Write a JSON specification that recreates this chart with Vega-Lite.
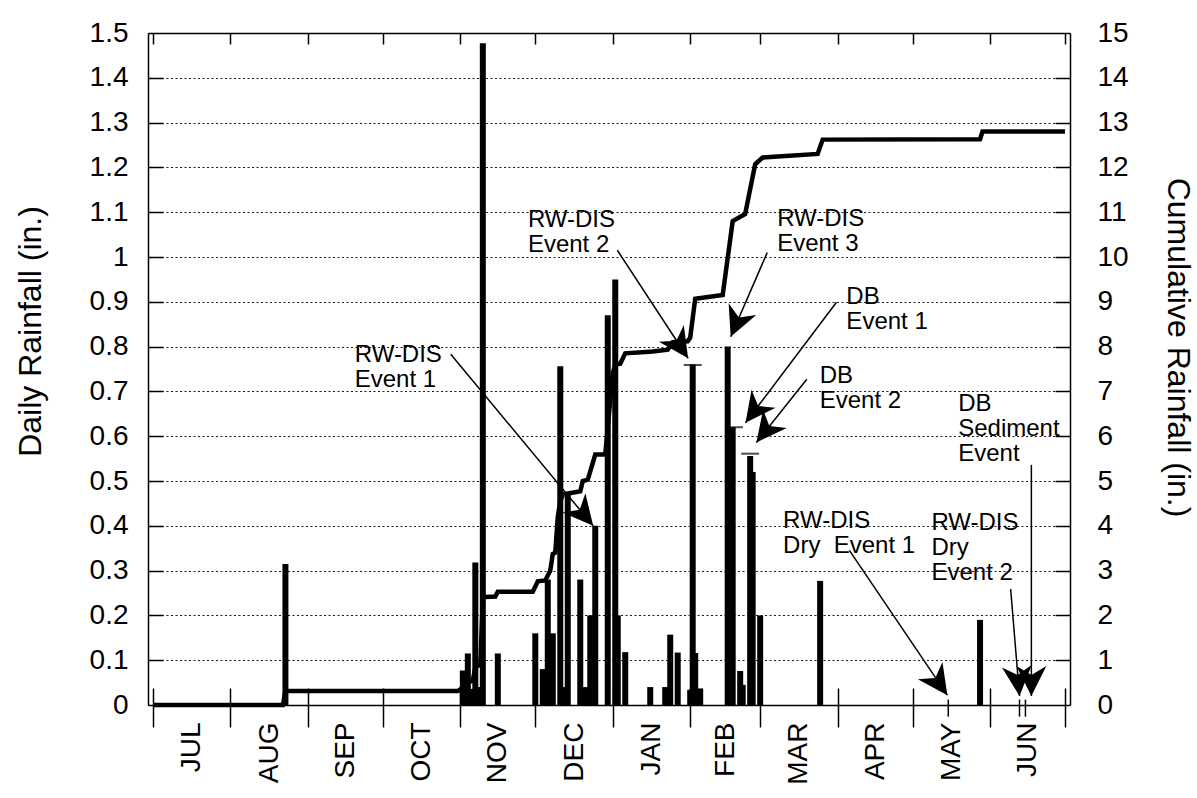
{
  "$schema": "https://vega.github.io/schema/vega-lite/v6.json",
  "width": 922,
  "height": 672,
  "autosize": "none",
  "padding": {"left": 148, "top": 33, "right": 127, "bottom": 93},
  "background": "white",
  "config": {
    "view": {"stroke": null},
    "font": "Liberation Sans",
    "axis": {
      "domainColor": "black", "domainWidth": 1.5, "tickColor": "black", "tickWidth": 1.5,
      "labelColor": "black", "titleColor": "black", "labelFont": "Liberation Sans", "titleFont": "Liberation Sans",
      "titleFontWeight": "normal", "labelFontSize": 28, "titleFontSize": 32, "grid": false,
      "labelOverlap": false, "labelFlush": false
    }
  },
  "datasets": {
    "daily": [
      {"date": "1997-08-23", "rain": 0.315},
      {"date": "1997-11-02", "rain": 0.077},
      {"date": "1997-11-04", "rain": 0.115},
      {"date": "1997-11-06", "rain": 0.036},
      {"date": "1997-11-07", "rain": 0.318},
      {"date": "1997-11-09", "rain": 0.04},
      {"date": "1997-11-10", "rain": 1.477},
      {"date": "1997-11-16", "rain": 0.115},
      {"date": "1997-12-01", "rain": 0.16},
      {"date": "1997-12-04", "rain": 0.08},
      {"date": "1997-12-06", "rain": 0.28},
      {"date": "1997-12-08", "rain": 0.16},
      {"date": "1997-12-11", "rain": 0.756},
      {"date": "1997-12-12", "rain": 0.04},
      {"date": "1997-12-14", "rain": 0.47},
      {"date": "1997-12-19", "rain": 0.28},
      {"date": "1997-12-21", "rain": 0.04},
      {"date": "1997-12-23", "rain": 0.2},
      {"date": "1997-12-25", "rain": 0.4},
      {"date": "1997-12-30", "rain": 0.87},
      {"date": "1998-01-02", "rain": 0.95},
      {"date": "1998-01-03", "rain": 0.2},
      {"date": "1998-01-06", "rain": 0.118},
      {"date": "1998-01-16", "rain": 0.04},
      {"date": "1998-01-22", "rain": 0.04},
      {"date": "1998-01-24", "rain": 0.157},
      {"date": "1998-01-27", "rain": 0.117},
      {"date": "1998-02-01", "rain": 0.034},
      {"date": "1998-02-02", "rain": 0.76},
      {"date": "1998-02-03", "rain": 0.116},
      {"date": "1998-02-05", "rain": 0.037},
      {"date": "1998-02-16", "rain": 0.8},
      {"date": "1998-02-18", "rain": 0.62},
      {"date": "1998-02-21", "rain": 0.076},
      {"date": "1998-02-22", "rain": 0.045},
      {"date": "1998-02-25", "rain": 0.556},
      {"date": "1998-02-26", "rain": 0.52},
      {"date": "1998-03-01", "rain": 0.2},
      {"date": "1998-03-25", "rain": 0.277},
      {"date": "1998-05-28", "rain": 0.19}
    ],
    "cumulative": [
      {"date": "1997-07-01", "total": 0},
      {"date": "1997-08-22", "total": 0},
      {"date": "1997-08-23", "total": 0.31},
      {"date": "1997-10-31", "total": 0.31},
      {"date": "1997-11-01", "total": 0.35},
      {"date": "1997-11-02", "total": 0.39},
      {"date": "1997-11-04", "total": 0.5},
      {"date": "1997-11-06", "total": 0.55},
      {"date": "1997-11-07", "total": 0.85},
      {"date": "1997-11-09", "total": 0.9},
      {"date": "1997-11-10", "total": 2.38},
      {"date": "1997-11-11", "total": 2.41},
      {"date": "1997-11-15", "total": 2.42},
      {"date": "1997-11-16", "total": 2.53},
      {"date": "1997-11-30", "total": 2.53},
      {"date": "1997-12-02", "total": 2.76},
      {"date": "1997-12-05", "total": 2.78},
      {"date": "1997-12-07", "total": 3.0},
      {"date": "1997-12-08", "total": 3.37},
      {"date": "1997-12-09", "total": 3.4},
      {"date": "1997-12-10", "total": 4.2},
      {"date": "1997-12-11", "total": 4.55},
      {"date": "1997-12-12", "total": 4.7},
      {"date": "1997-12-19", "total": 4.77},
      {"date": "1997-12-20", "total": 5.0},
      {"date": "1997-12-22", "total": 5.03},
      {"date": "1997-12-25", "total": 5.59},
      {"date": "1997-12-29", "total": 5.59},
      {"date": "1998-01-01", "total": 7.4},
      {"date": "1998-01-02", "total": 7.6},
      {"date": "1998-01-04", "total": 7.62},
      {"date": "1998-01-06", "total": 7.85},
      {"date": "1998-01-17", "total": 7.89},
      {"date": "1998-01-23", "total": 7.93},
      {"date": "1998-01-25", "total": 8.1},
      {"date": "1998-01-31", "total": 8.12},
      {"date": "1998-02-01", "total": 8.2},
      {"date": "1998-02-03", "total": 9.07},
      {"date": "1998-02-14", "total": 9.15},
      {"date": "1998-02-18", "total": 10.8},
      {"date": "1998-02-23", "total": 10.96},
      {"date": "1998-02-27", "total": 12.07},
      {"date": "1998-03-02", "total": 12.22},
      {"date": "1998-03-24", "total": 12.3},
      {"date": "1998-03-26", "total": 12.62},
      {"date": "1998-05-28", "total": 12.63},
      {"date": "1998-05-29", "total": 12.8},
      {"date": "1998-07-01", "total": 12.8}
    ],
    "caps": [
      {"date": "1998-02-02", "rain": 0.759},
      {"date": "1998-02-18T12:00Z", "rain": 0.62},
      {"date": "1998-02-25", "rain": 0.561}
    ],
    "markers": [
      {"date": "1998-05-15T07:00Z"},
      {"date": "1998-06-12T19:00Z"},
      {"date": "1998-06-15T04:00Z"}
    ],
    "notes": [
      {"label": "RW-DIS\nEvent 1", "date": "1997-09-19T18:00Z", "rain": 0.765},
      {"label": "RW-DIS\nEvent 2", "date": "1997-11-28T01:00Z", "rain": 1.067},
      {"label": "RW-DIS\nEvent 3", "date": "1998-03-07T19:00Z", "rain": 1.07},
      {"label": "DB\nEvent 1", "date": "1998-04-04T12:00Z", "rain": 0.896},
      {"label": "DB\nEvent 2", "date": "1998-03-24T20:00Z", "rain": 0.7185},
      {"label": "DB\nSediment\nEvent", "date": "1998-05-19T06:00Z", "rain": 0.6556},
      {"label": "RW-DIS\nDry\u00a0\u00a0Event 1", "date": "1998-03-10T04:00Z", "rain": 0.394},
      {"label": "RW-DIS\nDry\nEvent 2", "date": "1998-05-08T13:00Z", "rain": 0.39}
    ],
    "arrows": [
      {"id": "E1", "date": "1997-10-28T04:00Z", "rain": 0.783, "tipDate": "1997-12-24T04:00Z", "tipRain": 0.4},
      {"id": "E2", "date": "1998-01-02T20:00Z", "rain": 1.015, "tipDate": "1998-01-31T04:00Z", "tipRain": 0.774},
      {"id": "E3", "date": "1998-03-03T20:00Z", "rain": 1.01, "tipDate": "1998-02-17T05:00Z", "tipRain": 0.822},
      {"id": "D1", "date": "1998-03-31T13:00Z", "rain": 0.899, "tipDate": "1998-02-23T03:00Z", "tipRain": 0.63},
      {"id": "D2", "date": "1998-03-19T16:00Z", "rain": 0.727, "tipDate": "1998-02-27T12:00Z", "tipRain": 0.586},
      {"id": "DS", "date": "1998-06-17T13:00Z", "rain": 0.536, "tipDate": "1998-06-17T13:00Z", "tipRain": 0.02},
      {"id": "Y1", "date": "1998-04-05T17:00Z", "rain": 0.345, "tipDate": "1998-05-14T22:00Z", "tipRain": 0.022},
      {"id": "Y2", "date": "1998-06-09T06:00Z", "rain": 0.259, "tipDate": "1998-06-12T19:00Z", "tipRain": 0.02}
    ]
  },
  "layer": [
    {
      "data": {"name": "daily"},
      "mark": {"type": "bar", "size": 6, "color": "black"},
      "encoding": {
        "x": {"field": "date", "type": "temporal",
          "scale": {"type": "utc", "domain": [{"year": 1997, "month": 7, "date": 1, "utc": true}, {"year": 1998, "month": 7, "date": 1, "utc": true}]},
          "axis": {"orient": "bottom", "title": null, "labels": false, "tickSize": 22, "domain": true, "grid": false,
            "values": [{"year": 1997, "month": 7, "date": 1, "utc": true}, {"year": 1997, "month": 8, "date": 1, "utc": true}, {"year": 1997, "month": 9, "date": 1, "utc": true}, {"year": 1997, "month": 10, "date": 1, "utc": true}, {"year": 1997, "month": 11, "date": 1, "utc": true}, {"year": 1997, "month": 12, "date": 1, "utc": true}, {"year": 1998, "month": 1, "date": 1, "utc": true}, {"year": 1998, "month": 2, "date": 1, "utc": true}, {"year": 1998, "month": 3, "date": 1, "utc": true}, {"year": 1998, "month": 4, "date": 1, "utc": true}, {"year": 1998, "month": 5, "date": 1, "utc": true}, {"year": 1998, "month": 6, "date": 1, "utc": true}, {"year": 1998, "month": 7, "date": 1, "utc": true}]}},
        "y": {"field": "rain", "type": "quantitative",
          "scale": {"domain": [0, 1.5], "nice": false, "zero": true},
          "axis": {"orient": "left", "values": [0, 0.1, 0.2, 0.3, 0.4, 0.5, 0.6, 0.7, 0.8, 0.9, 1, 1.1, 1.2, 1.3, 1.4, 1.5],
            "format": "~g", "ticks": false, "tickSize": 0, "labelPadding": 20, "domain": true,
            "grid": true, "gridColor": "black", "gridDash": [2, 2.5], "gridWidth": 1, "gridOpacity": 0.9,
            "title": "Daily Rainfall (in.)", "titleAngle": 270, "titleX": -118, "titleY": 298,
            "titleAlign": "center", "titleBaseline": "middle"}}
      }
    },
    {
      "data": {"name": "cumulative"},
      "mark": {"type": "line", "color": "black", "strokeWidth": 4.5},
      "encoding": {
        "x": {"field": "date", "type": "temporal",
          "scale": {"type": "utc", "domain": [{"year": 1997, "month": 7, "date": 1, "utc": true}, {"year": 1998, "month": 7, "date": 1, "utc": true}]},
          "axis": {"orient": "top", "title": null, "labels": false, "tickSize": -11, "domain": true,
            "values": [{"year": 1997, "month": 7, "date": 1, "utc": true}, {"year": 1997, "month": 8, "date": 1, "utc": true}, {"year": 1997, "month": 9, "date": 1, "utc": true}, {"year": 1997, "month": 10, "date": 1, "utc": true}, {"year": 1997, "month": 11, "date": 1, "utc": true}, {"year": 1997, "month": 12, "date": 1, "utc": true}, {"year": 1998, "month": 1, "date": 1, "utc": true}, {"year": 1998, "month": 2, "date": 1, "utc": true}, {"year": 1998, "month": 3, "date": 1, "utc": true}, {"year": 1998, "month": 4, "date": 1, "utc": true}, {"year": 1998, "month": 5, "date": 1, "utc": true}, {"year": 1998, "month": 6, "date": 1, "utc": true}, {"year": 1998, "month": 7, "date": 1, "utc": true}]}},
        "y": {"field": "total", "type": "quantitative",
          "scale": {"domain": [0, 15], "nice": false},
          "axis": {"orient": "right", "values": [0, 1, 2, 3, 4, 5, 6, 7, 8, 9, 10, 11, 12, 13, 14, 15],
            "ticks": false, "tickSize": 0, "labelPadding": 27, "labelAlign": "left", "domain": true,
            "title": "Cumulative Rainfall (in.)", "titleAngle": 90, "titleX": 107, "titleY": 314,
            "titleAlign": "center", "titleBaseline": "middle"}}
      }
    },
    {
      "data": {"name": "caps"},
      "mark": {"type": "tick", "orient": "horizontal", "color": "black", "size": 18, "thickness": 2},
      "encoding": {
        "x": {"field": "date", "type": "temporal",
          "scale": {"type": "utc", "domain": [{"year": 1997, "month": 7, "date": 1, "utc": true}, {"year": 1998, "month": 7, "date": 1, "utc": true}]},
          "axis": {"orient": "bottom", "title": null, "labels": false, "tickSize": -17, "domain": false,
            "values": [{"year": 1997, "month": 7, "date": 1, "utc": true}, {"year": 1997, "month": 8, "date": 1, "utc": true}, {"year": 1997, "month": 9, "date": 1, "utc": true}, {"year": 1997, "month": 10, "date": 1, "utc": true}, {"year": 1997, "month": 11, "date": 1, "utc": true}, {"year": 1997, "month": 12, "date": 1, "utc": true}, {"year": 1998, "month": 1, "date": 1, "utc": true}, {"year": 1998, "month": 2, "date": 1, "utc": true}, {"year": 1998, "month": 3, "date": 1, "utc": true}, {"year": 1998, "month": 4, "date": 1, "utc": true}, {"year": 1998, "month": 5, "date": 1, "utc": true}, {"year": 1998, "month": 6, "date": 1, "utc": true}, {"year": 1998, "month": 7, "date": 1, "utc": true}]}},
        "y": {"field": "rain", "type": "quantitative",
          "scale": {"domain": [0, 1.5], "nice": false},
          "axis": {"orient": "left", "values": [0.1, 0.2, 0.3, 0.4, 0.5, 0.6, 0.7, 0.8, 0.9, 1, 1.1, 1.2, 1.3, 1.4],
            "tickSize": -15, "labels": false, "domain": false, "title": null, "grid": false}}
      }
    },
    {
      "data": {"name": "arrows", "format": {"parse": {"date": "date", "tipDate": "date"}}},
      "mark": {"type": "rule", "color": "black", "strokeWidth": 1.5},
      "encoding": {
        "x": {"field": "date", "type": "temporal",
          "scale": {"type": "utc", "domain": [{"year": 1997, "month": 7, "date": 1, "utc": true}, {"year": 1998, "month": 7, "date": 1, "utc": true}]},
          "axis": {"orient": "bottom", "title": null, "ticks": false, "tickSize": 0, "domain": false,
            "labelPadding": 17, "labelAngle": 270, "labelAlign": "right", "labelBaseline": "middle", "labelFontSize": 28,
            "labelExpr": "upper(utcFormat(datum.value, '%b'))",
            "values": [{"year": 1997, "month": 7, "date": 16, "hours": 12, "utc": true}, {"year": 1997, "month": 8, "date": 16, "hours": 12, "utc": true}, {"year": 1997, "month": 9, "date": 16, "utc": true}, {"year": 1997, "month": 10, "date": 16, "hours": 12, "utc": true}, {"year": 1997, "month": 11, "date": 16, "utc": true}, {"year": 1997, "month": 12, "date": 16, "hours": 12, "utc": true}, {"year": 1998, "month": 1, "date": 16, "hours": 12, "utc": true}, {"year": 1998, "month": 2, "date": 15, "utc": true}, {"year": 1998, "month": 3, "date": 16, "hours": 12, "utc": true}, {"year": 1998, "month": 4, "date": 16, "utc": true}, {"year": 1998, "month": 5, "date": 16, "hours": 12, "utc": true}, {"year": 1998, "month": 6, "date": 16, "utc": true}]}},
        "x2": {"field": "tipDate"},
        "y": {"field": "rain", "type": "quantitative",
          "scale": {"domain": [0, 1.5], "nice": false},
          "axis": {"orient": "right", "values": [0.1, 0.2, 0.3, 0.4, 0.5, 0.6, 0.7, 0.8, 0.9, 1, 1.1, 1.2, 1.3, 1.4],
            "tickSize": -15, "labels": false, "domain": false, "title": null, "grid": false}},
        "y2": {"field": "tipRain"}
      }
    },
    {
      "data": {"name": "markers"},
      "mark": {"type": "rule", "color": "black", "strokeWidth": 1.5},
      "encoding": {
        "x": {"field": "date", "type": "temporal", "scale": {"type": "utc", "domain": [{"year": 1997, "month": 7, "date": 1, "utc": true}, {"year": 1998, "month": 7, "date": 1, "utc": true}]}, "axis": null},
        "y": {"datum": -0.026, "type": "quantitative", "scale": {"domain": [0, 1.5], "nice": false}, "axis": null},
        "y2": {"datum": 0.012}
      }
    },
    {
      "data": {"name": "arrows", "format": {"parse": {"tipDate": "date"}}},
      "transform": [{"filter": "datum.id == 'E1'"}],
      "mark": {"type": "point", "shape": "M0,0L-0.5,1L0,0.7L0.5,1Z", "filled": true, "color": "black", "opacity": 1, "size": 3600, "angle": 140},
      "encoding": {
        "x": {"field": "tipDate", "type": "temporal", "scale": {"type": "utc", "domain": [{"year": 1997, "month": 7, "date": 1, "utc": true}, {"year": 1998, "month": 7, "date": 1, "utc": true}]}, "axis": null},
        "y": {"field": "tipRain", "type": "quantitative", "scale": {"domain": [0, 1.5], "nice": false}, "axis": null}
      }
    },
    {
      "data": {"name": "arrows", "format": {"parse": {"tipDate": "date"}}},
      "transform": [{"filter": "datum.id == 'E2'"}],
      "mark": {"type": "point", "shape": "M0,0L-0.5,1L0,0.7L0.5,1Z", "filled": true, "color": "black", "opacity": 1, "size": 3600, "angle": 146},
      "encoding": {
        "x": {"field": "tipDate", "type": "temporal", "scale": {"type": "utc", "domain": [{"year": 1997, "month": 7, "date": 1, "utc": true}, {"year": 1998, "month": 7, "date": 1, "utc": true}]}, "axis": null},
        "y": {"field": "tipRain", "type": "quantitative", "scale": {"domain": [0, 1.5], "nice": false}, "axis": null}
      }
    },
    {
      "data": {"name": "arrows", "format": {"parse": {"tipDate": "date"}}},
      "transform": [{"filter": "datum.id == 'E3'"}],
      "mark": {"type": "point", "shape": "M0,0L-0.5,1L0,0.7L0.5,1Z", "filled": true, "color": "black", "opacity": 1, "size": 3600, "angle": 203},
      "encoding": {
        "x": {"field": "tipDate", "type": "temporal", "scale": {"type": "utc", "domain": [{"year": 1997, "month": 7, "date": 1, "utc": true}, {"year": 1998, "month": 7, "date": 1, "utc": true}]}, "axis": null},
        "y": {"field": "tipRain", "type": "quantitative", "scale": {"domain": [0, 1.5], "nice": false}, "axis": null}
      }
    },
    {
      "data": {"name": "arrows", "format": {"parse": {"tipDate": "date"}}},
      "transform": [{"filter": "datum.id == 'D1'"}],
      "mark": {"type": "point", "shape": "M0,0L-0.5,1L0,0.7L0.5,1Z", "filled": true, "color": "black", "opacity": 1, "size": 3600, "angle": 217},
      "encoding": {
        "x": {"field": "tipDate", "type": "temporal", "scale": {"type": "utc", "domain": [{"year": 1997, "month": 7, "date": 1, "utc": true}, {"year": 1998, "month": 7, "date": 1, "utc": true}]}, "axis": null},
        "y": {"field": "tipRain", "type": "quantitative", "scale": {"domain": [0, 1.5], "nice": false}, "axis": null}
      }
    },
    {
      "data": {"name": "arrows", "format": {"parse": {"tipDate": "date"}}},
      "transform": [{"filter": "datum.id == 'D2'"}],
      "mark": {"type": "point", "shape": "M0,0L-0.5,1L0,0.7L0.5,1Z", "filled": true, "color": "black", "opacity": 1, "size": 3600, "angle": 218},
      "encoding": {
        "x": {"field": "tipDate", "type": "temporal", "scale": {"type": "utc", "domain": [{"year": 1997, "month": 7, "date": 1, "utc": true}, {"year": 1998, "month": 7, "date": 1, "utc": true}]}, "axis": null},
        "y": {"field": "tipRain", "type": "quantitative", "scale": {"domain": [0, 1.5], "nice": false}, "axis": null}
      }
    },
    {
      "data": {"name": "arrows", "format": {"parse": {"tipDate": "date"}}},
      "transform": [{"filter": "datum.id == 'DS'"}],
      "mark": {"type": "point", "shape": "M0,0L-0.5,1L0,0.7L0.5,1Z", "filled": true, "color": "black", "opacity": 1, "size": 3600, "angle": 180},
      "encoding": {
        "x": {"field": "tipDate", "type": "temporal", "scale": {"type": "utc", "domain": [{"year": 1997, "month": 7, "date": 1, "utc": true}, {"year": 1998, "month": 7, "date": 1, "utc": true}]}, "axis": null},
        "y": {"field": "tipRain", "type": "quantitative", "scale": {"domain": [0, 1.5], "nice": false}, "axis": null}
      }
    },
    {
      "data": {"name": "arrows", "format": {"parse": {"tipDate": "date"}}},
      "transform": [{"filter": "datum.id == 'Y1'"}],
      "mark": {"type": "point", "shape": "M0,0L-0.5,1L0,0.7L0.5,1Z", "filled": true, "color": "black", "opacity": 1, "size": 3600, "angle": 145},
      "encoding": {
        "x": {"field": "tipDate", "type": "temporal", "scale": {"type": "utc", "domain": [{"year": 1997, "month": 7, "date": 1, "utc": true}, {"year": 1998, "month": 7, "date": 1, "utc": true}]}, "axis": null},
        "y": {"field": "tipRain", "type": "quantitative", "scale": {"domain": [0, 1.5], "nice": false}, "axis": null}
      }
    },
    {
      "data": {"name": "arrows", "format": {"parse": {"tipDate": "date"}}},
      "transform": [{"filter": "datum.id == 'Y2'"}],
      "mark": {"type": "point", "shape": "M0,0L-0.5,1L0,0.7L0.5,1Z", "filled": true, "color": "black", "opacity": 1, "size": 3600, "angle": 175},
      "encoding": {
        "x": {"field": "tipDate", "type": "temporal", "scale": {"type": "utc", "domain": [{"year": 1997, "month": 7, "date": 1, "utc": true}, {"year": 1998, "month": 7, "date": 1, "utc": true}]}, "axis": null},
        "y": {"field": "tipRain", "type": "quantitative", "scale": {"domain": [0, 1.5], "nice": false}, "axis": null}
      }
    },
    {
      "data": {"name": "notes"},
      "mark": {"type": "text", "align": "left", "baseline": "alphabetic", "lineBreak": "\n", "font": "Liberation Sans", "fontSize": 24, "lineHeight": 25, "color": "black"},
      "encoding": {
        "x": {"field": "date", "type": "temporal", "scale": {"type": "utc", "domain": [{"year": 1997, "month": 7, "date": 1, "utc": true}, {"year": 1998, "month": 7, "date": 1, "utc": true}]}, "axis": null},
        "y": {"field": "rain", "type": "quantitative", "scale": {"domain": [0, 1.5], "nice": false}, "axis": null},
        "text": {"field": "label"}
      }
    }
  ],
  "resolve": {"scale": {"y": "independent"}, "axis": {"x": "independent", "y": "independent"}}
}
